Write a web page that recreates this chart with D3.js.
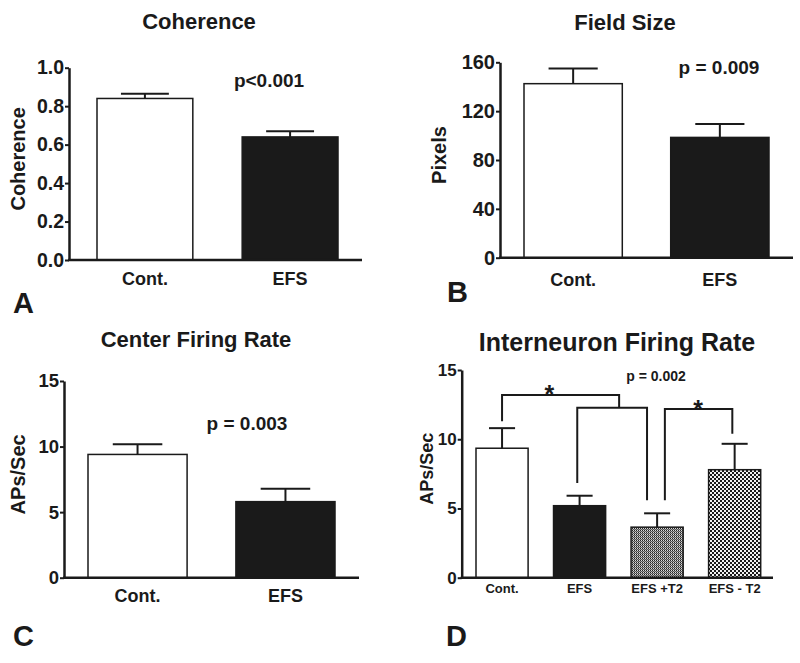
<!DOCTYPE html>
<html><head><meta charset="utf-8">
<script src="https://cdn.jsdelivr.net/npm/d3@7"></script>
<style>
body{margin:0;background:#fff}
svg{display:block}
text{font-family:"Liberation Sans",Arial,Helvetica,sans-serif;font-weight:bold;fill:#1a1a1a}
</style>
</head><body>
<svg id="chart" width="800" height="663"></svg>
<script>
// ---------- DATA ----------
const coherenceCategories = ["Cont.", "EFS"];
const coherenceMeans = [0.84, 0.64];
const coherenceSEM = [0.025, 0.03];
const coherenceTicks = [0, 0.2, 0.4, 0.6, 0.8, 1.0];

const fieldCategories = ["Cont.", "EFS"];
const fieldMeans = [142.5, 98.5];
const fieldSEM = [12.5, 11];
const fieldTicks = [0, 40, 80, 120, 160];

const centerCategories = ["Cont.", "EFS"];
const centerMeans = [9.4, 5.8];
const centerSEM = [0.77, 0.99];
const centerTicks = [0, 5, 10, 15];

const interCategories = ["Cont.", "EFS", "EFS +T2", "EFS - T2"];
const interMeans = [9.35, 5.2, 3.65, 7.8];
const interSEM = [1.45, 0.72, 1.0, 1.87];
const interTicks = [0, 5, 10, 15];

// significance brackets (x as category index, y in APs/Sec)
const bracketLeftIdx = [0, 0.97, 2.1];
const bracketRightIdx = [1.51, 1.87, 2.97];
const bracketTop = [13.2, 12.27, 12.18];
const bracketLeftFoot = [11.3, 6.84, 5.6];
const bracketRightFoot = [12.27, 5.6, 10.4];
const starIdx = [0.61, 2.53];
const starLevel = [13.8, 12.7];

// ---------- DRAW ----------
const svg = d3.select("#chart");
const defs = svg.append("defs");

// pattern for EFS +T2: fine checker with horizontal banding
const p1 = defs.append("pattern").attr("id","patPlus").attr("patternUnits","userSpaceOnUse")
  .attr("width",2).attr("height",2);
p1.append("rect").attr("width",2).attr("height",2).attr("fill","#9a9a9a");
p1.append("rect").attr("x",0).attr("y",0).attr("width",1).attr("height",1).attr("fill","#222");
p1.append("rect").attr("x",1).attr("y",0).attr("width",1).attr("height",1).attr("fill","#ddd");
p1.append("rect").attr("x",1).attr("y",1).attr("width",1).attr("height",1).attr("fill","#555");

// pattern for EFS - T2: checkerboard
const p2 = defs.append("pattern").attr("id","patMinus").attr("patternUnits","userSpaceOnUse")
  .attr("width",4).attr("height",4);
p2.append("rect").attr("width",4).attr("height",4).attr("fill","#f2f2f2");
p2.append("rect").attr("x",0).attr("y",0).attr("width",2).attr("height",2).attr("fill","#1a1a1a");
p2.append("rect").attr("x",2).attr("y",2).attr("width",2).attr("height",2).attr("fill","#1a1a1a");

function panel(o) {
  const g = svg.append("g");
  const x = d3.scaleBand().domain(o.cats).range(o.barRange).paddingInner(o.pi).paddingOuter(0);
  const y = d3.scaleLinear().domain([0, d3.max(o.ticks)]).range(o.yRange);
  const bw = x.bandwidth();
  const rows = o.cats.map((c,i)=>({c, m:o.means[i], s:o.sem[i], fill:o.fills[i]}));

  // bars
  g.selectAll("rect.bar").data(rows).join("rect").attr("class","bar")
    .attr("x", d=>x(d.c)).attr("width", bw)
    .attr("y", d=>y(d.m)).attr("height", d=>y(0)-y(d.m))
    .attr("fill", d=>d.fill).attr("stroke","#1a1a1a").attr("stroke-width",1.5);

  // error bars (upper)
  g.selectAll("line.err").data(rows).join("line").attr("class","err")
    .attr("x1", d=>x(d.c)+bw/2).attr("x2", d=>x(d.c)+bw/2)
    .attr("y1", d=>y(d.m)).attr("y2", d=>y(d.m+d.s))
    .attr("stroke","#1a1a1a").attr("stroke-width",2);
  g.selectAll("line.cap").data(rows).join("line").attr("class","cap")
    .attr("x1", d=>x(d.c)+bw/4).attr("x2", d=>x(d.c)+bw*3/4)
    .attr("y1", d=>y(d.m+d.s)).attr("y2", d=>y(d.m+d.s))
    .attr("stroke","#1a1a1a").attr("stroke-width",2);

  // y axis
  const ax = g.append("g").attr("transform",`translate(${o.axisX},0)`)
    .call(d3.axisLeft(y).tickValues(o.ticks).tickFormat(o.fmt).tickSize(4).tickPadding(1).tickSizeOuter(0));
  ax.select(".domain").attr("stroke","#1a1a1a").attr("stroke-width",2.5);
  ax.selectAll(".tick line").attr("stroke","#1a1a1a").attr("stroke-width",2);
  ax.selectAll(".tick text").attr("fill","#1a1a1a").style("font-size",o.tickFs+"px")
    .style("font-family",'"Liberation Sans",Arial,sans-serif').style("font-weight","bold");

  // x axis line
  g.append("line").attr("x1",o.axisX-1).attr("x2",o.axisEnd).attr("y1",y(0)).attr("y2",y(0))
    .attr("stroke","#1a1a1a").attr("stroke-width",2.5);

  // x labels
  g.selectAll("text.xl").data(rows).join("text").attr("class","xl")
    .attr("x", d=>x(d.c)+bw/2).attr("y", o.xlabY).attr("text-anchor","middle")
    .style("font-size", o.xlabFs+"px").text(d=>d.c);

  // y title
  g.append("text").attr("transform",`translate(${o.ytX},${(o.yRange[0]+o.yRange[1])/2-5}) rotate(-90)`)
    .attr("text-anchor","middle").style("font-size",o.ytFs+"px").text(o.ytitle);

  // title
  g.append("text").attr("x",o.titleX).attr("y",o.titleY).attr("text-anchor","middle")
    .style("font-size",o.titleFs+"px").text(o.title);

  // p value
  g.append("text").attr("x",o.pX).attr("y",o.pY).attr("text-anchor","middle")
    .style("font-size",o.pFs+"px").text(o.p);

  // panel letter
  g.append("text").attr("x",o.letterX).attr("y",o.letterY).style("font-size","29px").text(o.letter);

  return {g, x, y, bw};
}

const fmt1 = d3.format(".1f"), fmt0 = d3.format("d");

panel({cats:coherenceCategories, means:coherenceMeans, sem:coherenceSEM, ticks:coherenceTicks, fmt:fmt1,
  fills:["#fff","#1a1a1a"], barRange:[97,338], pi:0.34, yRange:[260,67.7], axisX:69, axisEnd:362,
  tickFs:19.5, xlabY:285, xlabFs:18, ytX:25, ytFs:20, ytitle:"Coherence",
  title:"Coherence", titleX:199, titleY:29, titleFs:22,
  p:"p<0.001", pX:269, pY:87, pFs:19, letter:"A", letterX:13, letterY:313});

panel({cats:fieldCategories, means:fieldMeans, sem:fieldSEM, ticks:fieldTicks, fmt:fmt0,
  fills:["#fff","#1a1a1a"], barRange:[524,769], pi:0.33, yRange:[257.7,62.3], axisX:500, axisEnd:793,
  tickFs:20, xlabY:286, xlabFs:18, ytX:446, ytFs:20, ytitle:"Pixels",
  title:"Field Size", titleX:625, titleY:30, titleFs:22,
  p:"p = 0.009", pX:719, pY:74, pFs:19, letter:"B", letterX:447, letterY:302});

panel({cats:centerCategories, means:centerMeans, sem:centerSEM, ticks:centerTicks, fmt:fmt0,
  fills:["#fff","#1a1a1a"], barRange:[88,335], pi:0.33, yRange:[577.7,381], axisX:64, axisEnd:359,
  tickFs:18.5, xlabY:602, xlabFs:18, ytX:25, ytFs:20, ytitle:"APs/Sec",
  title:"Center Firing Rate", titleX:196, titleY:347, titleFs:22,
  p:"p = 0.003", pX:247, pY:430, pFs:19, letter:"C", letterX:13, letterY:646});

const D = panel({cats:interCategories, means:interMeans, sem:interSEM, ticks:interTicks, fmt:fmt0,
  fills:["#fff","#1a1a1a","url(#patPlus)","url(#patMinus)"], barRange:[476,760.7], pi:0.328,
  yRange:[577.7,370], axisX:461.7, axisEnd:773,
  tickFs:17, xlabY:593, xlabFs:13, ytX:433, ytFs:18, ytitle:"APs/Sec",
  title:"Interneuron Firing Rate", titleX:617, titleY:351, titleFs:25,
  p:"p = 0.002", pX:656, pY:381, pFs:14, letter:"D", letterX:446, letterY:646});

// brackets for panel D
const c0 = D.x(interCategories[0]) + D.bw/2;
const step = D.x.step();
const bx = i => c0 + i*step;
const brackets = bracketLeftIdx.map((l,i)=>({l, r:bracketRightIdx[i], t:bracketTop[i], lf:bracketLeftFoot[i], rf:bracketRightFoot[i]}));
D.g.selectAll("path.br").data(brackets).join("path").attr("class","br")
  .attr("d", d=>`M${bx(d.l)},${D.y(d.lf)}V${D.y(d.t)}H${bx(d.r)}V${D.y(d.rf)}`)
  .attr("fill","none").attr("stroke","#1a1a1a").attr("stroke-width",2);
D.g.selectAll("text.star").data(starIdx.map((s,i)=>({s, v:starLevel[i]}))).join("text").attr("class","star")
  .attr("x", d=>bx(d.s)).attr("y", d=>D.y(d.v)+16).attr("text-anchor","middle")
  .style("font-size","25px").text("*");
</script>
</body></html>
